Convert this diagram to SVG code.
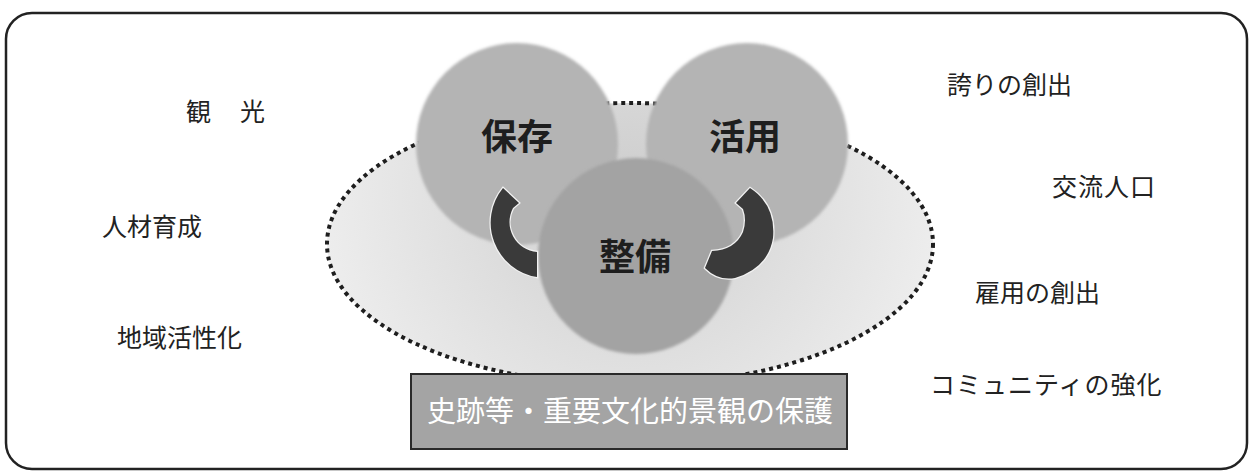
<svg xmlns="http://www.w3.org/2000/svg" width="1252" height="473" viewBox="0 0 1252 473">
<defs>
<style>
.side{font-family:"Noto Sans CJK JP","Noto Sans",sans-serif;font-size:25px;fill:#222;}
.big{font-family:"Noto Sans CJK JP","Noto Sans",sans-serif;font-size:36px;font-weight:bold;fill:#1e1e1e;text-anchor:middle;}
.boxtxt{font-family:"Noto Sans CJK JP","Noto Sans",sans-serif;font-size:29px;fill:#ffffff;text-anchor:middle;}
.arc{fill:#3a3a3a;stroke:#f2f2f2;stroke-width:2.5;paint-order:stroke;}
</style>
<radialGradient id="ellG" cx="630" cy="190" r="320" gradientUnits="userSpaceOnUse">
<stop offset="0" stop-color="#cdcdcd"/>
<stop offset="0.5" stop-color="#dedede"/>
<stop offset="1" stop-color="#eeeeee"/>
</radialGradient>
<filter id="soft" x="-10%" y="-10%" width="120%" height="120%">
<feGaussianBlur stdDeviation="1.6"/>
</filter>
</defs>
<rect width="1252" height="473" fill="#ffffff"/>
<rect id="frame" x="6" y="13" width="1241" height="456" rx="26" ry="26" fill="none" stroke="#222" stroke-width="2.5"/>

<g id="scope">
<ellipse cx="630" cy="244" rx="303" ry="141" fill="url(#ellG)" stroke="#1e1e1e" stroke-width="4" stroke-dasharray="4 4"/>
</g>

<g id="node-hozon">
<circle cx="517" cy="144" r="101" fill="#b4b4b4" filter="url(#soft)"/>
<text class="big" x="517" y="150">保存</text>
</g>
<g id="node-katsuyo">
<circle cx="747" cy="144" r="101" fill="#b4b4b4" filter="url(#soft)"/>
<text class="big" x="745" y="150">活用</text>
</g>
<g id="node-seibi">
<circle cx="636" cy="256" r="98" fill="#a3a3a3" filter="url(#soft)"/>
<text class="big" x="635" y="270">整備</text>
</g>

<g id="connectors">
<path class="arc" d="M 503 188 L 519 203 L 513 208 A 30 30 0 0 0 537 252 L 537 277 A 55 55 0 0 1 503 188 Z"/>
<path class="arc" d="M 750 188 Q 776 205 773 238 Q 768 268 735 278 Q 718 281 705 268 L 712 251 Q 735 250 743 232 Q 747 220 743 209 L 736 203 Z"/>
</g>

<g id="node-base">
<rect x="411" y="374" width="436" height="75" fill="#a4a4a4" stroke="#2a2a2a" stroke-width="2"/>
<text class="boxtxt" x="630" y="422">史跡等・重要文化的景観の保護</text>
</g>

<g id="effects-left">
<text class="side" x="186" y="121">観<tspan dx="29">光</tspan></text>
<text class="side" x="102" y="236">人材育成</text>
<text class="side" x="117" y="347">地域活性化</text>
</g>
<g id="effects-right">
<text class="side" x="947" y="94">誇りの創出</text>
<text class="side" x="1052" y="196" letter-spacing="1">交流人口</text>
<text class="side" x="975" y="302">雇用の創出</text>
<text class="side" x="930" y="394" letter-spacing="1">コミュニティの強化</text>
</g>
</svg>
